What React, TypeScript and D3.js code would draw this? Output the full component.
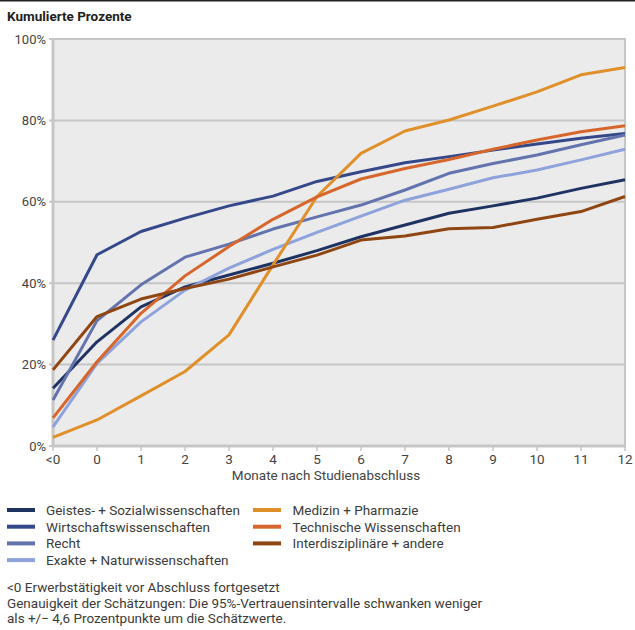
import * as d3 from 'd3';

const categories = ['<0', '0', '1', '2', '3', '4', '5', '6', '7', '8', '9', '10', '11', '12'];

const geistes = [14.2, 25.6, 34.2, 39.1, 42, 44.9, 48, 51.4, 54.3, 57.2, 59, 60.9, 63.3, 65.4];
const wirtschaft = [26, 47, 52.7, 56, 59, 61.4, 65, 67.4, 69.6, 71.1, 72.7, 74.2, 75.6, 76.8];
const recht = [11.3, 30.8, 39.6, 46.4, 49.6, 53.3, 56.3, 59.2, 62.9, 67, 69.4, 71.5, 74, 76.4];
const exakte = [4.7, 20.3, 30.5, 38.3, 43.7, 48.3, 52.5, 56.5, 60.4, 63.1, 65.9, 67.8, 70.3, 72.9];
const medizin = [2.1, 6.4, 12.3, 18.3, 27.3, 44.5, 61.3, 71.9, 77.4, 80.1, 83.5, 87, 91.2, 93];
const technik = [6.9, 20.7, 32.6, 41.8, 49, 55.7, 61.2, 65.6, 68.2, 70.4, 72.9, 75.2, 77.2, 78.7];
const interdis = [18.7, 31.8, 36.1, 38.7, 41, 44, 46.9, 50.6, 51.6, 53.4, 53.7, 55.7, 57.6, 61.3];

const yTicks = [0, 20, 40, 60, 80, 100];

const series = [
  { name: 'Geistes- + Sozialwissenschaften', values: geistes, color: '#1f3363' },
  { name: 'Wirtschaftswissenschaften', values: wirtschaft, color: '#34488a' },
  { name: 'Recht', values: recht, color: '#6373ad' },
  { name: 'Exakte + Naturwissenschaften', values: exakte, color: '#8ea3dc' },
  { name: 'Medizin + Pharmazie', values: medizin, color: '#e0902a' },
  { name: 'Technische Wissenschaften', values: technik, color: '#d6662b' },
  { name: 'Interdisziplinäre + andere', values: interdis, color: '#8f4613' },
];

const notes = [
  '<0 Erwerbstätigkeit vor Abschluss fortgesetzt',
  'Genauigkeit der Schätzungen: Die 95%-Vertrauensintervalle schwanken weniger',
  'als +/− 4,6 Prozentpunkte um die Schätzwerte.',
];

const font = 'Roboto, "Noto Sans", sans-serif';

export default function App() {
  const width = 635;
  const height = 630;
  const margin = { left: 53, right: 10, top: 39, bottom: 184 };
  const x = d3.scalePoint<string>().domain(categories).range([margin.left, width - margin.right]);
  const y = d3.scaleLinear().domain([0, 100]).range([height - margin.bottom, margin.top]);

  const line = d3
    .line<number>()
    .x((_, i) => x(categories[i]) as number)
    .y((d) => y(d));

  const x0 = margin.left;
  const x1 = width - margin.right;
  const y0 = y(0);
  const y1 = y(100);

  const legendCols = [
    { items: series.slice(0, 4), sx: 7, tx: 46 },
    { items: series.slice(4), sx: 253, tx: 292.5 },
  ];

  return (
    <svg
      width={width}
      height={height}
      style={{ position: 'absolute', left: 0, top: 0, display: 'block' }}
      fontFamily={font}
    >
      <rect width={width} height={height} fill="#fff" />
      <line x1={0} x2={width} y1={0.5} y2={0.5} stroke="#222" strokeWidth={2} />
      <text x={7} y={21} fontSize={13.5} fontWeight={700} fill="#222">
        Kumulierte Prozente
      </text>

      <rect x={x0} y={y1} width={x1 - x0} height={y0 - y1} fill="#ebebeb" />

      {yTicks.map((t) => (
        <g key={t}>
          <line x1={x0 - 4} x2={x1} y1={y(t)} y2={y(t)} stroke="#c6c6c6" strokeWidth={2} />
          <text x={x0 - 7} y={y(t)} dy="0.35em" textAnchor="end" fontSize={13} fill="#444">
            {t}%
          </text>
        </g>
      ))}
      <line x1={x0} x2={x0} y1={y1 - 1} y2={y0 + 1} stroke="#c6c6c6" strokeWidth={3} />
      <line x1={x1} x2={x1} y1={y1 - 1} y2={y0 + 1} stroke="#c6c6c6" strokeWidth={2} />
      <line x1={x0 - 1} x2={x1 + 1} y1={y0} y2={y0} stroke="#c6c6c6" strokeWidth={3} />

      {categories.map((c) => (
        <g key={c}>
          <line x1={x(c)} x2={x(c)} y1={y0} y2={y0 + 5} stroke="#c6c6c6" strokeWidth={1.5} />
          <text x={x(c)} y={y0 + 18} textAnchor="middle" fontSize={13.5} fill="#444">
            {c}
          </text>
        </g>
      ))}
      <text x={326} y={y0 + 34} textAnchor="middle" fontSize={13.5} fill="#444">
        Monate nach Studienabschluss
      </text>

      {series.map((s) => (
        <path
          key={s.name}
          d={line(s.values) ?? ''}
          fill="none"
          stroke={s.color}
          strokeWidth={3}
          strokeLinejoin="round"
        />
      ))}

      {legendCols.map((col, ci) =>
        col.items.map((s, i) => (
          <g key={s.name} transform={`translate(0, ${510 + i * 16.7})`}>
            <line x1={col.sx} x2={col.sx + 28} y1={0} y2={0} stroke={s.color} strokeWidth={4} />
            <text x={col.tx} y={0} dy="0.36em" fontSize={13.5} fill="#3c3c3c">
              {s.name}
            </text>
          </g>
        ))
      )}

      <g fontSize={13.5} fill="#3c3c3c">
        {notes.map((n, i) => (
          <text key={i} x={7} y={592 + i * 15.7}>
            {n}
          </text>
        ))}
      </g>
    </svg>
  );
}
